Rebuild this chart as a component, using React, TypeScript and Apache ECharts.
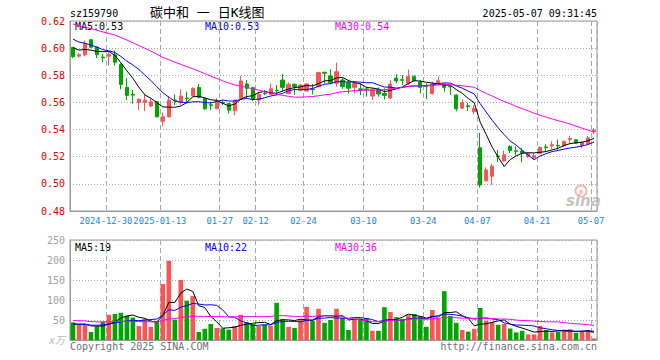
import React, { useEffect, useRef } from 'react';
import * as echarts from 'echarts';

// ---- data ----
const dates = [
  '2024-12-20','2024-12-23','2024-12-24','2024-12-25','2024-12-26','2024-12-27','2024-12-30','2024-12-31',
  '2025-01-02','2025-01-03','2025-01-06','2025-01-07','2025-01-08','2025-01-09','2025-01-10','2025-01-13',
  '2025-01-14','2025-01-15','2025-01-16','2025-01-17','2025-01-20','2025-01-21','2025-01-22','2025-01-23',
  '2025-01-24','2025-01-27','2025-02-05','2025-02-06','2025-02-07','2025-02-10','2025-02-11','2025-02-12',
  '2025-02-13','2025-02-14','2025-02-17','2025-02-18','2025-02-19','2025-02-20','2025-02-21','2025-02-24',
  '2025-02-25','2025-02-26','2025-02-27','2025-02-28','2025-03-03','2025-03-04','2025-03-05','2025-03-06',
  '2025-03-07','2025-03-10','2025-03-11','2025-03-12','2025-03-13','2025-03-14','2025-03-17','2025-03-18',
  '2025-03-19','2025-03-20','2025-03-21','2025-03-24','2025-03-25','2025-03-26','2025-03-27','2025-03-28',
  '2025-03-31','2025-04-01','2025-04-02','2025-04-03','2025-04-07','2025-04-08','2025-04-09','2025-04-10',
  '2025-04-11','2025-04-14','2025-04-15','2025-04-16','2025-04-17','2025-04-18','2025-04-21','2025-04-22',
  '2025-04-23','2025-04-24','2025-04-25','2025-04-28','2025-04-29','2025-04-30','2025-05-06','2025-05-07',
];

const opens = [
  0.6005,0.5941,0.5951,0.6062,0.6007,0.5934,0.5941,0.5951,0.5879,0.5711,0.5660,0.5600,0.5600,0.5573,0.5605,0.5462,
  0.5494,0.5617,0.5600,0.5632,0.5649,0.5711,0.5630,0.5583,0.5553,0.5600,0.5592,0.5538,0.5630,0.5736,0.5709,0.5617,
  0.5668,0.5659,0.5690,0.5765,0.5666,0.5733,0.5691,0.5684,0.5698,0.5716,0.5822,0.5795,0.5741,0.5765,0.5745,0.5711,
  0.5700,0.5699,0.5647,0.5697,0.5667,0.5632,0.5780,0.5768,0.5741,0.5790,0.5750,0.5722,0.5665,0.5745,0.5736,0.5718,
  0.5655,0.5557,0.5575,0.5531,0.5266,0.5022,0.5056,0.5206,0.5168,0.5276,0.5244,0.5242,0.5201,0.5192,0.5226,0.5272,
  0.5280,0.5284,0.5280,0.5326,0.5325,0.5283,0.5296,0.5383,
];
const closes = [
  0.5937,0.5951,0.6032,0.6007,0.5951,0.5929,0.5953,0.5896,0.5733,0.5652,0.5654,0.5624,0.5617,0.5605,0.5494,0.5494,
  0.5617,0.5612,0.5647,0.5627,0.5704,0.5637,0.5553,0.5578,0.5605,0.5595,0.5543,0.5617,0.5758,0.5704,0.5625,0.5659,
  0.5664,0.5701,0.5686,0.5711,0.5733,0.5716,0.5728,0.5736,0.5694,0.5820,0.5815,0.5745,0.5826,0.5716,0.5705,0.5741,
  0.5695,0.5694,0.5697,0.5662,0.5652,0.5735,0.5758,0.5763,0.5790,0.5760,0.5711,0.5718,0.5735,0.5760,0.5711,0.5714,
  0.5553,0.5598,0.5570,0.5556,0.4992,0.5103,0.5130,0.5201,0.5214,0.5246,0.5240,0.5226,0.5222,0.5207,0.5268,0.5267,
  0.5289,0.5279,0.5313,0.5334,0.5300,0.5306,0.5338,0.5393,
];
const lows = [
  0.5928,0.5930,0.5941,0.6000,0.5926,0.5896,0.5872,0.5872,0.5696,0.5617,0.5592,0.5543,0.5536,0.5563,0.5490,0.5427,
  0.5490,0.5580,0.5580,0.5592,0.5645,0.5630,0.5545,0.5543,0.5550,0.5580,0.5518,0.5506,0.5625,0.5630,0.5610,0.5580,
  0.5654,0.5654,0.5654,0.5679,0.5659,0.5654,0.5680,0.5680,0.5659,0.5711,0.5740,0.5735,0.5716,0.5700,0.5667,0.5667,
  0.5654,0.5643,0.5618,0.5642,0.5622,0.5625,0.5741,0.5728,0.5728,0.5753,0.5667,0.5625,0.5660,0.5725,0.5679,0.5654,
  0.5535,0.5553,0.5536,0.5512,0.4972,0.5018,0.4993,0.5162,0.5164,0.5226,0.5208,0.5158,0.5190,0.5178,0.5222,0.5239,
  0.5259,0.5252,0.5270,0.5300,0.5295,0.5264,0.5290,0.5367,
];
const highs = [
  0.6010,0.5965,0.6057,0.6065,0.6012,0.5958,0.5970,0.5983,0.5888,0.5778,0.5691,0.5628,0.5659,0.5630,0.5612,0.5526,
  0.5647,0.5659,0.5696,0.5679,0.5711,0.5736,0.5635,0.5605,0.5630,0.5617,0.5597,0.5620,0.5795,0.5765,0.5716,0.5679,
  0.5691,0.5740,0.5728,0.5810,0.5748,0.5741,0.5735,0.5741,0.5736,0.5822,0.5827,0.5844,0.5893,0.5780,0.5765,0.5753,
  0.5741,0.5716,0.5704,0.5711,0.5704,0.5765,0.5808,0.5802,0.5842,0.5800,0.5765,0.5741,0.5753,0.5790,0.5741,0.5722,
  0.5659,0.5623,0.5598,0.5580,0.5376,0.5121,0.5148,0.5250,0.5245,0.5285,0.5275,0.5264,0.5228,0.5227,0.5277,0.5292,
  0.5314,0.5326,0.5319,0.5355,0.5330,0.5314,0.5352,0.5410,
];
// volume, in 万
const volumes = [
  44,38,38,20,34,45,63,65,68,60,56,35,52,33,47,140,
  198,51,150,98,110,20,28,40,30,29,26,35,63,45,40,35,
  38,35,93,52,33,30,52,83,48,78,43,50,78,55,25,51,
  53,55,23,23,82,70,57,53,62,65,60,33,75,53,122,60,
  43,25,21,28,80,48,45,38,40,29,19,23,14,14,35,25,
  19,21,22,27,18,22,25,4,
];
// estimated closes / volumes of the 29 sessions before the window, only used to seed the moving averages
const priorCloses = [
  0.636,0.634,0.631,0.633,0.628,0.630,0.625,0.627,0.622,0.624,0.626,0.621,0.623,0.618,
  0.619,0.614,0.616,0.612,0.615,0.614,
  0.617,0.612,0.614,0.610,0.612,
  0.604,0.601,0.603,0.600,
];
const priorVolumes = [
  62,48,71,55,44,58,66,49,52,47,60,45,51,57,43,54,50,48,56,52,
  45,38,42,36,39,
  41,35,43,37,
];

const tickDates = ['2024-12-30','2025-01-13','2025-01-27','2025-02-12','2025-02-24','2025-03-10','2025-03-24','2025-04-07','2025-04-21','2025-05-07'];
const tickLabels = ['2024-12-30','2025-01-13','01-27','02-12','02-24','03-10','03-24','04-07','04-21','05-07'];

const priceMin = 0.48, priceMax = 0.62, priceStep = 0.02;
const volMin = 0, volMax = 250, volStep = 50;

const titleText = '碳中和 一 日K线图';
const codeText = 'sz159790';
const stampText = '2025-05-07 09:31:45';

// ---- helpers ----
function movingAvg(values: number[], prior: number[], n: number): number[] {
  const all = prior.concat(values);
  const off = prior.length;
  return values.map((_, i) => {
    let s = 0;
    for (let k = 0; k < n; k++) s += all[off + i - k];
    return s / n;
  });
}

const RED = '#f85656';
const GREEN = '#00a600';
const MONO = '"DejaVu Sans Mono", "Liberation Mono", monospace';

export default function App() {
  const ref = useRef<HTMLDivElement>(null);
  useEffect(() => {
    if (!ref.current) return;
    const chart = echarts.init(ref.current, undefined, { renderer: 'svg' });
    const ma5 = movingAvg(closes, priorCloses, 5);
    const ma10 = movingAvg(closes, priorCloses, 10);
    const ma30 = movingAvg(closes, priorCloses, 30);
    const vma5 = movingAvg(volumes, priorVolumes, 5);
    const vma10 = movingAvg(volumes, priorVolumes, 10);
    const vma30 = movingAvg(volumes, priorVolumes, 30);
    const last = dates.length - 1;
    const tickIdx = new Set(tickDates.map((d) => dates.indexOf(d)));
    const labelOf: Record<string, string> = {};
    tickDates.forEach((d, i) => (labelOf[d] = tickLabels[i]));

    const candle = dates.map((_, i) => [opens[i], closes[i], lows[i], highs[i]]);
    const vol = volumes.map((v, i) => ({
      value: v,
      itemStyle: { color: closes[i] >= opens[i] ? RED : GREEN },
    }));

    const vSplit = {
      show: true,
      interval: (i: number) => tickIdx.has(i),
      lineStyle: { color: '#aaaaaa', type: [5, 3] as any, width: 1 },
    };
    const hSplit = { show: true, lineStyle: { color: '#a8a8a8', type: [1, 2] as any, width: 1 } };
    const lineBase = (color: string) => ({
      type: 'line' as const,
      showSymbol: false,
      symbol: 'none',
      lineStyle: { color, width: 1 },
      itemStyle: { color },
      silent: true,
    });

    const txt = (text: string, x: number, y: number, fill: string, opt: any = {}) => ({
      type: 'text',
      x,
      y,
      silent: true,
      style: {
        text,
        fill,
        font: opt.font || `10px ${MONO}`,
        textAlign: opt.align || 'left',
        textVerticalAlign: 'middle',
      },
    });

    chart.setOption({
      animation: false,
      backgroundColor: '#ffffff',
      grid: [
        { left: 70, top: 21, width: 527, height: 190, show: true, borderColor: '#999999', borderWidth: 1, backgroundColor: 'transparent' },
        { left: 70, top: 240, width: 527, height: 100, show: true, borderColor: '#999999', borderWidth: 1, backgroundColor: 'transparent' },
      ],
      xAxis: [
        {
          type: 'category',
          gridIndex: 0,
          data: dates,
          boundaryGap: true,
          axisLine: { show: true, lineStyle: { color: '#999999' } },
          axisTick: { show: false },
          axisLabel: {
            interval: 0,
            formatter: (v: string) => (labelOf[v] ? '{a|' + labelOf[v] + '}' : ''),
            rich: {
              a: {
                color: '#1c86d8',
                fontFamily: MONO,
                fontSize: 8.8,
                padding: [0, 6, 0, 0],
              },
            },
            margin: 5,
            hideOverlap: false,
          },
          splitLine: vSplit,
        },
        {
          type: 'category',
          gridIndex: 1,
          data: dates,
          boundaryGap: true,
          axisLine: { show: true, lineStyle: { color: '#999999' } },
          axisTick: { show: false },
          axisLabel: { show: false },
          splitLine: vSplit,
        },
      ],
      yAxis: [
        {
          type: 'value',
          gridIndex: 0,
          min: priceMin,
          max: priceMax,
          interval: priceStep,
          axisLine: { show: true, lineStyle: { color: '#999999' } },
          axisTick: { show: false },
          axisLabel: { color: '#e00000', fontFamily: MONO, fontSize: 10, margin: 5, formatter: (v: number) => v.toFixed(2) },
          splitLine: hSplit,
        },
        {
          type: 'value',
          gridIndex: 1,
          min: volMin,
          max: volMax,
          interval: volStep,
          axisLine: { show: true, lineStyle: { color: '#999999' } },
          axisTick: { show: false },
          axisLabel: { color: '#a0a0a0', fontFamily: MONO, fontSize: 10, margin: 5, formatter: (v: number) => (v === 0 ? '' : String(v)) },
          splitLine: hSplit,
        },
      ],
      series: [
        {
          type: 'candlestick',
          xAxisIndex: 0,
          yAxisIndex: 0,
          data: candle,
          barWidth: 3.7,
          itemStyle: { color: RED, color0: GREEN, borderColor: RED, borderColor0: GREEN, borderWidth: 1 },
          silent: true,
        },
        { ...lineBase('#000000'), xAxisIndex: 0, yAxisIndex: 0, data: ma5 },
        { ...lineBase('#0000ff'), xAxisIndex: 0, yAxisIndex: 0, data: ma10 },
        { ...lineBase('#ff00ff'), xAxisIndex: 0, yAxisIndex: 0, data: ma30 },
        { type: 'bar', xAxisIndex: 1, yAxisIndex: 1, data: vol, barWidth: 4.6, silent: true },
        { ...lineBase('#000000'), xAxisIndex: 1, yAxisIndex: 1, data: vma5 },
        { ...lineBase('#0000ff'), xAxisIndex: 1, yAxisIndex: 1, data: vma10 },
        { ...lineBase('#ff00ff'), xAxisIndex: 1, yAxisIndex: 1, data: vma30 },
      ],
      graphic: [
        txt(codeText, 70, 13, '#000000'),
        txt(titleText, 150, 12, '#000000', { font: `13px "DejaVu Sans Mono", "Noto Sans CJK SC"` }),
        txt(stampText, 597, 13, '#000000', { align: 'right' }),
        txt('MA5:' + ma5[last].toFixed(2), 75, 26, '#000000'),
        txt('MA10:' + ma10[last].toFixed(2), 205, 26, '#0000ff'),
        txt('MA30:' + ma30[last].toFixed(2), 335, 26, '#ff00ff'),
        txt('MA5:' + Math.round(vma5[last]), 75, 247, '#000000'),
        txt('MA10:' + Math.round(vma10[last]), 205, 247, '#0000ff'),
        txt('MA30:' + Math.round(vma30[last]), 335, 247, '#ff00ff'),
        txt('x万', 49, 340, '#b8b8b8', { font: `italic 10px "DejaVu Sans", "Noto Sans CJK SC"` }),
        txt('Copyright 2025 SINA.COM', 70, 346, '#707070'),
        txt('http://finance.sina.com.cn', 597, 346, '#707070', { align: 'right' }),
        { type: 'circle', silent: true, shape: { cx: 581, cy: 191, r: 5.5 }, style: { fill: 'none', stroke: '#f3b9b9', lineWidth: 2 } },
        { type: 'circle', silent: true, shape: { cx: 581, cy: 192, r: 2.2 }, style: { fill: '#f3c4c4' } },
        txt('sina', 566, 201, '#c4c4c4', { font: `italic bold 15px "DejaVu Sans", sans-serif` }),
      ],
    });
    return () => chart.dispose();
  }, []);
  return <div ref={ref} style={{ position: 'fixed', left: 0, top: 0, width: 660, height: 360 }} />;
}
